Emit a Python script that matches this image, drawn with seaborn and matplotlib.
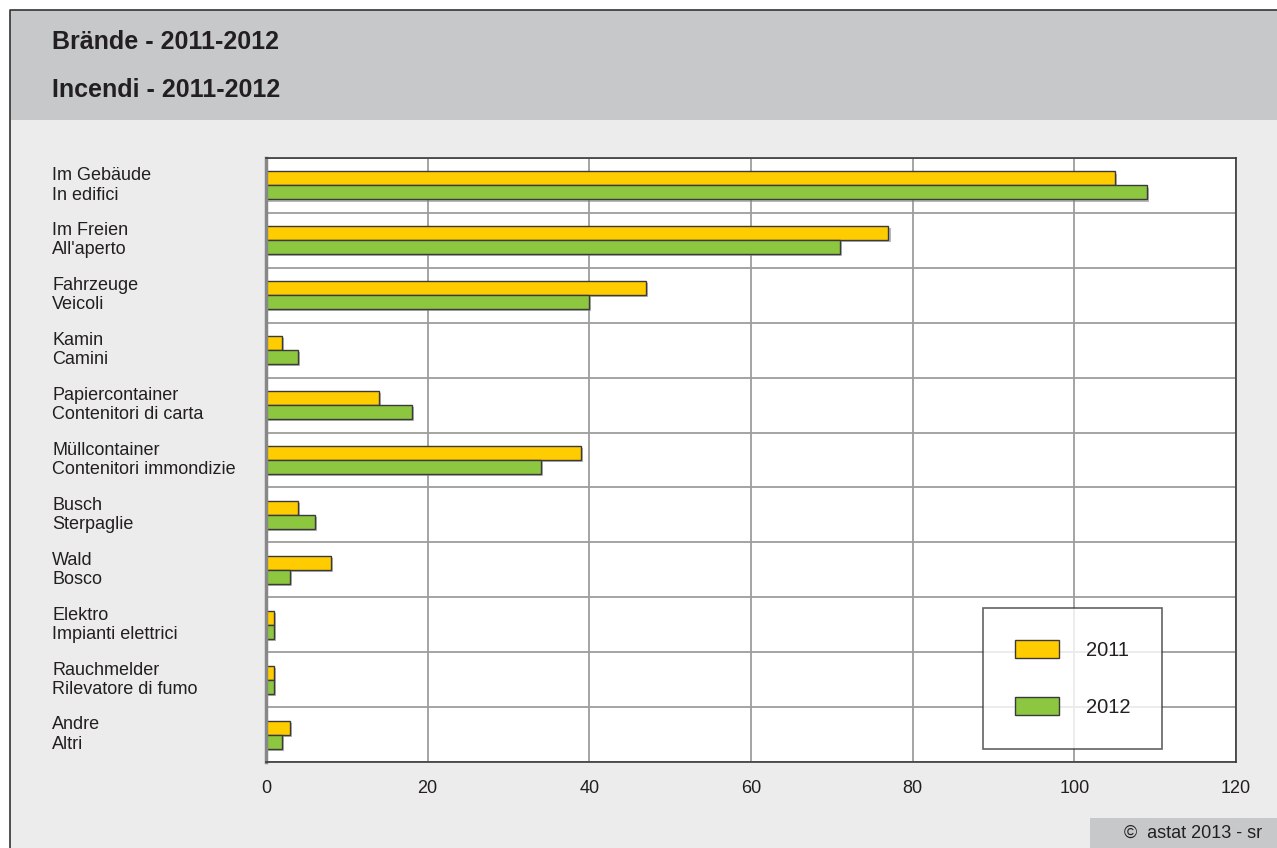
import numpy as np
import pandas as pd
import seaborn as sns
import matplotlib.pyplot as plt
import matplotlib.patheffects as pe
from matplotlib.patches import Rectangle, Patch
from matplotlib.transforms import blended_transform_factory

sns.set_style("white")
plt.rcParams['font.family'] = ['Liberation Sans', 'DejaVu Sans']

labels_de = ['Im Gebäude', 'Im Freien', 'Fahrzeuge', 'Kamin', 'Papiercontainer',
             'Müllcontainer', 'Busch', 'Wald', 'Elektro', 'Rauchmelder', 'Andre']
labels_it = ['In edifici', "All'aperto", 'Veicoli', 'Camini', 'Contenitori di carta',
             'Contenitori immondizie', 'Sterpaglie', 'Bosco', 'Impianti elettrici',
             'Rilevatore di fumo', 'Altri']
values_2011 = [105, 77, 47, 2, 14, 39, 4, 8, 1, 1, 3]
values_2012 = [109, 71, 40, 4, 18, 34, 6, 3, 1, 1, 2]
years = ['2011', '2012']
colors = ['#ffcc00', '#8dc63f']

cats = [a + '\n' + b for a, b in zip(labels_de, labels_it)]
df = pd.DataFrame({
    'cat': cats * 2,
    'value': values_2011 + values_2012,
    'year': [years[0]] * len(cats) + [years[1]] * len(cats),
})

W, H = 1277, 848
fig = plt.figure(figsize=(W / 100, H / 100), dpi=100)
fig.patch.set_facecolor('white')

# background panels
fig.patches.append(Rectangle((10 / W, 1 - 120 / H), 1, 110 / H, transform=fig.transFigure,
                             facecolor='#c7c8ca', edgecolor='none', zorder=-2))
fig.patches.append(Rectangle((10 / W, 0), 1, 1 - 120 / H, transform=fig.transFigure,
                             facecolor='#ebeceb', edgecolor='none', zorder=-3))
fig.patches.append(Rectangle((1090 / W, 0), 1, 30 / H, transform=fig.transFigure,
                             facecolor='#c7c8ca', edgecolor='none', zorder=-1))
fig.add_artist(plt.Line2D([10 / W, 10 / W, 1], [0, 1 - 10 / H, 1 - 10 / H],
                          transform=fig.transFigure, color='#333333', lw=1.2))

fig.text(52 / W, 1 - 42 / H, 'Brände - 2011-2012', fontsize=18, fontweight='bold',
         color='#231f20', va='center', ha='left')
fig.text(52 / W, 1 - 90 / H, 'Incendi - 2011-2012', fontsize=18, fontweight='bold',
         color='#231f20', va='center', ha='left')
fig.text(1262 / W, 1 - 833 / H, '©  astat 2013 - sr', fontsize=13, color='#231f20',
         va='center', ha='right')

ax = fig.add_axes([266 / W, 1 - 762 / H, 970 / W, 604 / H])
ax.set_facecolor('white')

sns.barplot(data=df, x='value', y='cat', hue='year', palette=colors, saturation=1,
            width=0.51, gap=0, edgecolor='#3a3a3a', linewidth=1, legend=False, ax=ax)

for bar in ax.patches:
    bar.set_path_effects([pe.SimplePatchShadow(offset=(1.5, -1.5), shadow_rgbFace='#888888', alpha=0.6),
                          pe.Normal()])

ax.set_xlim(0, 120)
ax.set_ylim(len(cats) - 0.5, -0.5)
ax.set_xticks(np.arange(0, 121, 20))
ax.set_yticks(np.arange(len(cats)))
ax.set_yticklabels([])
ax.set_yticks(np.arange(-0.5, len(cats), 1), minor=True)
ax.set_axisbelow(True)
ax.grid(axis='x', which='major', color='#9d9d9d', lw=1.3)
ax.grid(axis='y', which='minor', color='#9d9d9d', lw=1.3)
ax.tick_params(axis='both', which='both', length=0)
ax.tick_params(axis='x', labelsize=13, labelcolor='#231f20', pad=13)
ax.set_xlabel('')
ax.set_ylabel('')
for s in ax.spines.values():
    s.set_color('#3a3a3a')
    s.set_linewidth(1.2)
ax.spines['left'].set_color('#888888')
ax.spines['left'].set_linewidth(2.5)

tr = blended_transform_factory(fig.transFigure, ax.transData)
for i, c in enumerate(cats):
    ax.text(52 / W, i, c, transform=tr, fontsize=13, color='#231f20', ha='left',
            va='center', linespacing=1.17)

handles = [Patch(facecolor=colors[k], edgecolor='#3a3a3a', lw=1, label=years[k]) for k in range(2)]
leg = ax.legend(handles=handles, loc='lower left', bbox_to_anchor=(0.739, 0.0215),
                fontsize=14.5, frameon=True, fancybox=False, borderpad=1.6,
                handlelength=2.2, handleheight=0.95, handletextpad=1.3, labelspacing=1.85,
                borderaxespad=0)
leg.get_frame().set_edgecolor('#3a3a3a')
leg.get_frame().set_linewidth(1.2)
for t in leg.get_texts():
    t.set_color('#231f20')

fig.savefig('out.png', dpi=100, facecolor=fig.get_facecolor())
